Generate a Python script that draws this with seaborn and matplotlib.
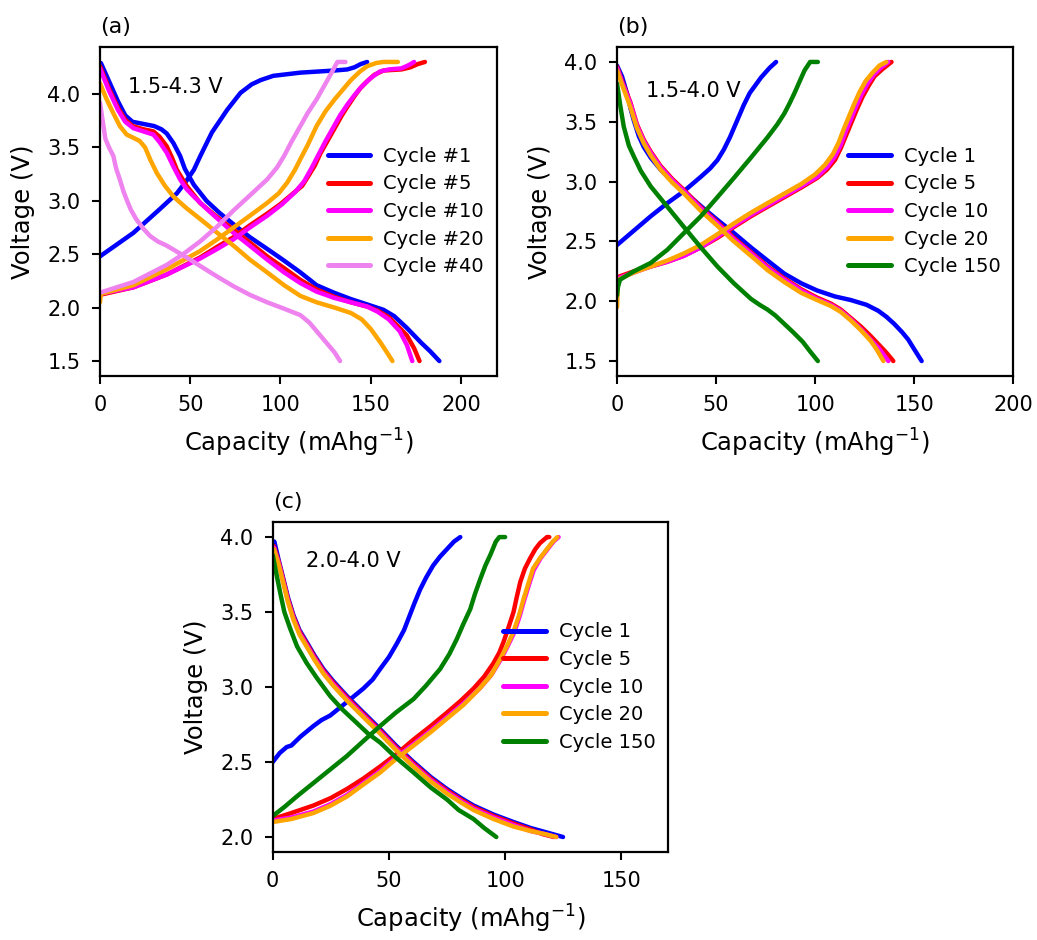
import matplotlib
matplotlib.use('Agg')
import pandas as pd
import seaborn as sns
from matplotlib import pyplot as plt

# ---- panel (a): 1.5-4.3 V ----
a_labels = ['Cycle #1', 'Cycle #5', 'Cycle #10', 'Cycle #20', 'Cycle #40']
a_colors = ['blue', 'red', 'magenta', 'orange', 'violet']

a1_chg = [(0, 2.48), (18.5, 2.70), (33, 2.92), (42.6, 3.07), (48, 3.19), (52, 3.29), (55.6, 3.42),
          (62, 3.64), (70.4, 3.85), (77.8, 4.01), (84, 4.09), (89, 4.13), (96, 4.17), (111, 4.20),
          (130, 4.22), (137, 4.23), (141, 4.25), (144.4, 4.28), (148, 4.3)]
a1_dis = [(0.5, 4.29), (5, 4.12), (10, 3.93), (14, 3.80), (18, 3.74), (24, 3.72), (30, 3.70),
          (34, 3.67), (37, 3.63), (40.7, 3.54), (44.4, 3.42), (47, 3.30), (52, 3.15), (59, 3.0),
          (66, 2.89), (74, 2.78), (83, 2.66), (92.6, 2.55), (102, 2.44), (111, 2.33), (120, 2.21),
          (129.6, 2.14), (139, 2.08), (148, 2.03), (157, 1.98), (163, 1.92), (170, 1.81),
          (178, 1.67), (183, 1.59), (188, 1.5)]
a5_chg = [(0, 2.12), (18.5, 2.19), (37, 2.31), (55.5, 2.47), (65, 2.57), (74, 2.66), (83, 2.77),
          (92.6, 2.88), (100, 2.97), (107, 3.07), (112, 3.14), (115, 3.22), (119, 3.33), (122, 3.44),
          (126, 3.56), (130, 3.68), (134, 3.80), (137, 3.88), (141, 3.98), (144, 4.05), (148, 4.12),
          (152, 4.18), (157, 4.22), (167, 4.23), (172, 4.25), (176, 4.28), (180, 4.3)]
a5_dis = [(0, 4.26), (5, 4.05), (10, 3.87), (14, 3.76), (18, 3.70), (24, 3.67), (29.6, 3.65),
          (33, 3.60), (37, 3.51), (40, 3.40), (42.6, 3.29), (48, 3.14), (55.5, 2.98), (64, 2.86),
          (74, 2.73), (83, 2.61), (92.6, 2.48), (102, 2.37), (111, 2.26), (120, 2.17), (130, 2.10),
          (139, 2.05), (148, 2.01), (154, 1.97), (160, 1.91), (166, 1.81), (170, 1.74), (174, 1.62),
          (177, 1.5)]
a10_chg = [(0, 2.13), (18.5, 2.19), (37, 2.31), (55.5, 2.46), (65, 2.55), (74, 2.64), (83, 2.75),
           (92.6, 2.86), (101, 2.97), (108, 3.08), (113, 3.18), (117, 3.30), (121, 3.43), (125, 3.56),
           (129, 3.68), (133, 3.80), (137, 3.90), (141, 3.99), (145, 4.07), (150, 4.15), (155, 4.21),
           (160, 4.23), (167, 4.24), (171, 4.27), (174, 4.3)]
a10_dis = [(0, 4.24), (5, 4.03), (10, 3.85), (14, 3.74), (18.5, 3.68), (24, 3.65), (29.6, 3.62),
           (33, 3.55), (37, 3.45), (40.7, 3.32), (44.4, 3.20), (48, 3.11), (52, 3.04), (60, 2.91),
           (74, 2.70), (83, 2.58), (92.6, 2.45), (102, 2.33), (111, 2.23), (120, 2.15), (130, 2.09),
           (139, 2.05), (148, 2.01), (154, 1.96), (160, 1.89), (166, 1.78), (170, 1.65), (173, 1.5)]
a20_chg = [(0, 2.05), (0.5, 2.13), (18.5, 2.21), (37, 2.36), (55.5, 2.53), (65, 2.64), (74, 2.75),
           (83, 2.86), (92.6, 2.98), (99, 3.07), (103.7, 3.17), (108, 3.29), (111, 3.39), (115, 3.52),
           (120, 3.70), (125, 3.84), (130, 3.95), (135, 4.05), (139, 4.13), (144, 4.21), (148, 4.26),
           (153, 4.29), (157, 4.3), (165, 4.3)]
a20_dis = [(0, 4.10), (3.7, 3.95), (7.4, 3.82), (11, 3.70), (14.8, 3.62), (18.5, 3.59), (22, 3.56),
           (25, 3.50), (28, 3.38), (31.5, 3.26), (36, 3.14), (40.7, 3.04), (48, 2.93), (55.5, 2.83),
           (65, 2.70), (74, 2.58), (83, 2.45), (92.6, 2.33), (102, 2.21), (111, 2.11), (120, 2.05),
           (130, 2.00), (139, 1.95), (145, 1.89), (150, 1.80), (155.5, 1.67), (159, 1.58), (162, 1.5)]
a40_chg = [(0, 2.14), (18.5, 2.24), (37, 2.40), (46, 2.50), (55.5, 2.62), (65, 2.76), (74, 2.91),
           (83, 3.05), (92.6, 3.20), (98, 3.31), (102, 3.42), (106, 3.55), (111, 3.70), (115, 3.82),
           (120, 3.95), (124, 4.07), (128, 4.19), (131.5, 4.3), (136, 4.3)]
a40_dis = [(0, 3.92), (1.5, 3.75), (3, 3.58), (5, 3.50), (7.4, 3.42), (9, 3.30), (11, 3.20),
           (13, 3.09), (14.8, 3.01), (17, 2.92), (20, 2.83), (24, 2.74), (27.8, 2.67), (32, 2.62),
           (37, 2.58), (46, 2.49), (55.5, 2.39), (65, 2.29), (74, 2.20), (83, 2.12), (92.6, 2.05),
           (102, 1.99), (111, 1.93), (116, 1.86), (120, 1.78), (125, 1.68), (130, 1.58), (133, 1.5)]

# ---- panel (b): 1.5-4.0 V ----
b_labels = ['Cycle 1', 'Cycle 5', 'Cycle 10', 'Cycle 20', 'Cycle 150']
b_colors = ['blue', 'red', 'magenta', 'orange', 'green']

b1_chg = [(0, 2.47), (8.5, 2.59), (17, 2.71), (25.4, 2.82), (33.8, 2.92), (42.3, 3.04), (47, 3.11),
          (50.7, 3.18), (54, 3.27), (57, 3.37), (60.9, 3.52), (64, 3.64), (67, 3.74), (72.7, 3.87),
          (77, 3.95), (80.3, 4.0)]
b1_dis = [(0, 3.97), (2.5, 3.88), (5, 3.74), (7, 3.60), (8.5, 3.51), (11, 3.38), (13.5, 3.29),
          (17, 3.20), (22, 3.10), (28, 3.00), (33.8, 2.92), (42, 2.80), (50.7, 2.68), (59, 2.57),
          (67.6, 2.45), (76, 2.34), (84.5, 2.23), (93, 2.15), (101, 2.09), (110, 2.04), (118, 2.01),
          (126, 1.97), (131.9, 1.92), (136, 1.87), (140, 1.81), (144, 1.74), (147, 1.68), (150, 1.60),
          (153.8, 1.5)]
b5_chg = [(0, 2.2), (8.5, 2.25), (17, 2.29), (25.4, 2.33), (33.8, 2.38), (42.3, 2.45), (50.7, 2.53),
          (59, 2.62), (67.6, 2.71), (76, 2.79), (84.5, 2.87), (93, 2.95), (101, 3.03), (106, 3.10),
          (110, 3.18), (113, 3.28), (116, 3.40), (118.5, 3.50), (121, 3.60), (124, 3.71), (127, 3.80),
          (130, 3.88), (134, 3.94), (138.6, 4.0)]
b5_dis = [(0, 3.96), (3, 3.82), (6.8, 3.66), (10, 3.48), (13.5, 3.35), (17, 3.25), (22, 3.13),
          (28, 3.02), (33.8, 2.93), (42, 2.79), (50.7, 2.66), (59, 2.53), (67.6, 2.41), (76, 2.29),
          (84.5, 2.19), (93, 2.10), (101, 2.03), (108, 1.98), (113, 1.93), (118, 1.86), (123, 1.79),
          (128, 1.71), (132, 1.64), (136, 1.57), (139.5, 1.5)]
b10_chg = [(0, 2.19), (8.5, 2.24), (17, 2.29), (25.4, 2.33), (33.8, 2.38), (42.3, 2.45), (50.7, 2.54),
           (59, 2.63), (67.6, 2.72), (76, 2.80), (84.5, 2.88), (93, 2.96), (101, 3.04), (106, 3.12),
           (110, 3.21), (113, 3.31), (115.5, 3.42), (118, 3.52), (120.5, 3.62), (123.5, 3.73),
           (126.5, 3.82), (129.5, 3.89), (133, 3.95), (137, 4.0)]
b10_dis = [(0, 3.95), (3, 3.81), (6.8, 3.65), (10, 3.47), (13.5, 3.34), (17, 3.24), (22, 3.12),
           (28, 3.01), (33.8, 2.92), (42, 2.78), (50.7, 2.65), (59, 2.52), (67.6, 2.40), (76, 2.28),
           (84.5, 2.18), (93, 2.09), (101, 2.02), (108, 1.97), (113, 1.92), (118, 1.85), (123, 1.77),
           (128, 1.68), (132, 1.61), (137, 1.5)]
b20_chg = [(0, 1.95), (0.5, 2.18), (8.5, 2.24), (17, 2.29), (25.4, 2.34), (33.8, 2.40), (42.3, 2.47),
           (50.7, 2.56), (59, 2.65), (67.6, 2.74), (76, 2.82), (84.5, 2.90), (93, 2.98), (100, 3.06),
           (105, 3.14), (109, 3.23), (112, 3.33), (114.5, 3.44), (117, 3.54), (119.5, 3.64),
           (122.5, 3.75), (125.5, 3.84), (129, 3.91), (132.5, 3.97), (136, 4.0)]
b20_dis = [(0, 3.93), (3, 3.79), (6.8, 3.62), (10, 3.45), (13.5, 3.32), (17, 3.22), (22, 3.10),
           (28, 2.99), (33.8, 2.90), (42, 2.76), (50.7, 2.63), (59, 2.50), (67.6, 2.38), (76, 2.26),
           (84.5, 2.16), (93, 2.07), (101, 2.01), (108, 1.96), (113, 1.91), (118, 1.84), (123, 1.76),
           (128, 1.67), (131, 1.60), (134.5, 1.5)]
b150_chg = [(0, 2.05), (0.5, 2.12), (1.5, 2.18), (8.5, 2.25), (17, 2.32), (25.4, 2.43), (33.8, 2.57),
            (42.3, 2.71), (50.7, 2.87), (59, 3.03), (67.6, 3.20), (76, 3.37), (81, 3.48), (84.5, 3.57),
            (87, 3.65), (89.6, 3.74), (92, 3.83), (94.7, 3.93), (97.5, 4.0), (101.4, 4.0)]
b150_dis = [(0, 3.82), (1.5, 3.65), (3.4, 3.46), (6, 3.30), (8.5, 3.21), (12, 3.09), (17, 2.96),
            (25.4, 2.79), (33.8, 2.62), (42.3, 2.45), (50.7, 2.29), (59, 2.15), (67.6, 2.02), (72, 1.97),
            (76, 1.93), (80, 1.88), (84.5, 1.81), (89, 1.74), (93.8, 1.66), (97.5, 1.58), (101.4, 1.5)]

# ---- panel (c): 2.0-4.0 V ----
c_labels = ['Cycle 1', 'Cycle 5', 'Cycle 10', 'Cycle 20', 'Cycle 150']
c_colors = ['blue', 'red', 'magenta', 'orange', 'green']

c1_chg = [(0, 2.5), (3, 2.56), (6, 2.6), (8, 2.61), (12, 2.67), (17.5, 2.74), (21, 2.78), (24.7, 2.81),
          (31.9, 2.90), (39, 2.99), (43, 3.05), (46.2, 3.12), (50, 3.20), (53.4, 3.29), (56.5, 3.38),
          (59, 3.48), (61, 3.56), (63.4, 3.65), (66, 3.73), (69, 3.81), (72, 3.87), (75, 3.92),
          (78, 3.97), (80.7, 4.0)]
c1_dis = [(0.7, 3.97), (2.5, 3.85), (4.6, 3.72), (6.5, 3.60), (8.9, 3.48), (11.5, 3.38), (14.6, 3.30),
          (18, 3.21), (21.8, 3.12), (26, 3.04), (31.9, 2.94), (39, 2.83), (46.2, 2.72), (53, 2.61),
          (60.6, 2.50), (68, 2.40), (75, 2.32), (81, 2.26), (86.4, 2.21), (95, 2.15), (103.6, 2.10),
          (111, 2.06), (118, 2.03), (124.9, 2.0)]
c5_chg = [(0, 2.12), (8, 2.16), (17.5, 2.21), (25, 2.26), (31.9, 2.32), (39, 2.39), (46.2, 2.47),
          (53, 2.55), (60.6, 2.65), (68, 2.74), (75, 2.83), (81, 2.91), (86.4, 2.99), (91, 3.07),
          (95, 3.16), (97.5, 3.23), (99.3, 3.30), (101.5, 3.40), (103.6, 3.50), (105, 3.60),
          (106.5, 3.70), (108.5, 3.79), (110.8, 3.86), (113, 3.92), (115, 3.96), (118, 4.0), (119, 4.0)]
c5_dis = [(0.5, 3.94), (2.5, 3.84), (4.6, 3.71), (6.5, 3.59), (8.9, 3.47), (11.5, 3.37), (14.6, 3.29),
          (18, 3.20), (21.8, 3.11), (26, 3.03), (31.9, 2.93), (39, 2.82), (46.2, 2.71), (53, 2.60),
          (60.6, 2.49), (68, 2.39), (75, 2.31), (81, 2.25), (86.4, 2.20), (95, 2.14), (103.6, 2.09),
          (111, 2.05), (116, 2.02), (121, 2.0)]
c10_chg = [(0, 2.11), (8, 2.13), (17.5, 2.17), (25, 2.22), (31.9, 2.28), (39, 2.36), (46.2, 2.44),
           (53, 2.53), (60.6, 2.62), (68, 2.71), (75, 2.80), (82, 2.89), (89, 2.99), (94, 3.08),
           (98, 3.18), (101, 3.27), (103.8, 3.36), (106.2, 3.47), (108.2, 3.58), (110.2, 3.68),
           (112.3, 3.78), (115.3, 3.86), (118.3, 3.92), (120.8, 3.97), (123, 4.0)]
c10_dis = [(0.5, 3.93), (2.5, 3.83), (4.6, 3.70), (6.5, 3.58), (8.9, 3.46), (11.5, 3.36), (14.6, 3.28),
           (18, 3.19), (21.8, 3.10), (26, 3.02), (31.9, 2.92), (39, 2.81), (46.2, 2.70), (53, 2.59),
           (60.6, 2.48), (68, 2.38), (75, 2.30), (81, 2.24), (86.4, 2.19), (95, 2.13), (103.6, 2.08),
           (111, 2.04), (117, 2.02), (122, 2.0)]
c20_chg = [(0, 2.10), (8, 2.12), (17.5, 2.16), (25, 2.21), (31.9, 2.27), (39, 2.35), (46.2, 2.43),
           (53, 2.52), (60.6, 2.61), (68, 2.70), (75, 2.79), (82, 2.88), (89, 2.99), (94, 3.08),
           (98, 3.19), (101, 3.28), (103.6, 3.37), (106, 3.48), (108, 3.59), (110, 3.69), (112, 3.79),
           (115, 3.86), (118, 3.92), (120.5, 3.97), (122.5, 4.0)]
c20_dis = [(0.5, 3.92), (2.5, 3.82), (4.6, 3.69), (6.5, 3.57), (8.9, 3.45), (11.5, 3.35), (14.6, 3.27),
           (18, 3.18), (21.8, 3.09), (26, 3.01), (31.9, 2.91), (39, 2.80), (46.2, 2.69), (53, 2.58),
           (60.6, 2.47), (68, 2.37), (75, 2.29), (81, 2.23), (86.4, 2.18), (95, 2.12), (103.6, 2.07),
           (111, 2.04), (117, 2.02), (122, 2.0)]
c150_chg = [(0, 2.14), (5, 2.20), (10.3, 2.27), (17.5, 2.36), (24.7, 2.45), (31.9, 2.54), (39, 2.64),
            (46.2, 2.74), (53, 2.83), (60.6, 2.92), (66, 3.01), (72, 3.12), (76, 3.22), (79.2, 3.32),
            (82, 3.42), (85, 3.52), (87, 3.62), (89.3, 3.72), (91.5, 3.81), (93.6, 3.88), (96, 3.97),
            (97.5, 4.0), (100, 4.0)]
c150_dis = [(0, 3.88), (1.5, 3.76), (3.2, 3.63), (5, 3.50), (7.5, 3.39), (10.5, 3.27), (14.6, 3.16),
            (19, 3.06), (24.7, 2.94), (30, 2.85), (36.2, 2.76), (41, 2.69), (46.2, 2.63), (53, 2.53),
            (60.6, 2.43), (68, 2.33), (75, 2.25), (80, 2.18), (86.4, 2.12), (91, 2.06), (96.2, 2.0)]


def build_frame(labels, curves):
    """
    Turn the (charge, discharge) point lists of every cycle into a long table
    :param labels: cycle names in legend order
    :param curves: list of (charge, discharge) pairs, same order as labels
    :return: DataFrame with cycle / branch / capacity / voltage
    """
    rows = []
    for label, (chg, dis) in zip(labels, curves):
        for branch, pts in (('charge', chg), ('discharge', dis)):
            for q, v in pts:
                rows.append((label, branch, q, v))
    return pd.DataFrame(rows, columns=['cycle', 'branch', 'capacity', 'voltage'])


def draw_panel(ax, df, labels, colors, tag, window, text_xy, xlim, xticks, yticks, legend_x):
    sns.lineplot(data=df, x='capacity', y='voltage', hue='cycle', hue_order=labels,
                 palette=colors, units='branch', estimator=None, sort=False,
                 linewidth=3.2, ax=ax)
    ax.set_xlim(*xlim)
    ax.set_xticks(xticks)
    ax.set_yticks(yticks)
    ax.set_xlabel('Capacity (mAhg$^{-1}$)', fontsize=17.5, labelpad=8)
    ax.set_ylabel('Voltage (V)', fontsize=17.5, labelpad=9)
    ax.tick_params(labelsize=15, length=6, width=1.5, pad=8)
    ax.set_title(tag, loc='left', fontsize=16, pad=10)
    ax.text(text_xy[0], text_xy[1], window, fontsize=15, va='center')
    for side in ax.spines.values():
        side.set_linewidth(1.6)

    old = ax.get_legend()
    handles = old.legend_handles
    names = [t.get_text() for t in old.get_texts()]
    old.remove()
    for h in handles:
        h.set_linewidth(3.6)
    ax.legend(handles, names, loc='center left', bbox_to_anchor=(legend_x, 0.5),
              frameon=False, fontsize=14, labelspacing=0.44, handlelength=2.2,
              handletextpad=0.65)


sns.set_theme(style='ticks', rc={'axes.edgecolor': 'black', 'xtick.color': 'black',
                                 'ytick.color': 'black', 'text.color': 'black',
                                 'axes.labelcolor': 'black'})
plt.rcParams['font.family'] = ['DejaVu Sans']

df_a = build_frame(a_labels, [(a1_chg, a1_dis), (a5_chg, a5_dis), (a10_chg, a10_dis),
                              (a20_chg, a20_dis), (a40_chg, a40_dis)])
df_b = build_frame(b_labels, [(b1_chg, b1_dis), (b5_chg, b5_dis), (b10_chg, b10_dis),
                              (b20_chg, b20_dis), (b150_chg, b150_dis)])
df_c = build_frame(c_labels, [(c1_chg, c1_dis), (c5_chg, c5_dis), (c10_chg, c10_dis),
                              (c20_chg, c20_dis), (c150_chg, c150_dis)])

fig = plt.figure(figsize=(10.37, 9.4), dpi=100)
ax_a = fig.add_axes([0.0964, 0.600, 0.383, 0.350])
ax_b = fig.add_axes([0.595, 0.600, 0.382, 0.350])
ax_c = fig.add_axes([0.263, 0.0936, 0.381, 0.351])

draw_panel(ax_a, df_a, a_labels, a_colors, '(a)', '1.5-4.3 V', (15.7, 4.07),
           (0, 220), [0, 50, 100, 150, 200], [1.5, 2.0, 2.5, 3.0, 3.5, 4.0], 0.529)
draw_panel(ax_b, df_b, b_labels, b_colors, '(b)', '1.5-4.0 V', (14.4, 3.76),
           (0, 200), [0, 50, 100, 150, 200], [1.5, 2.0, 2.5, 3.0, 3.5, 4.0], 0.54)
draw_panel(ax_c, df_c, c_labels, c_colors, '(c)', '2.0-4.0 V', (14.4, 3.84),
           (0, 170), [0, 50, 100, 150], [2.0, 2.5, 3.0, 3.5, 4.0], 0.539)

plt.savefig('out.png', dpi=100)
